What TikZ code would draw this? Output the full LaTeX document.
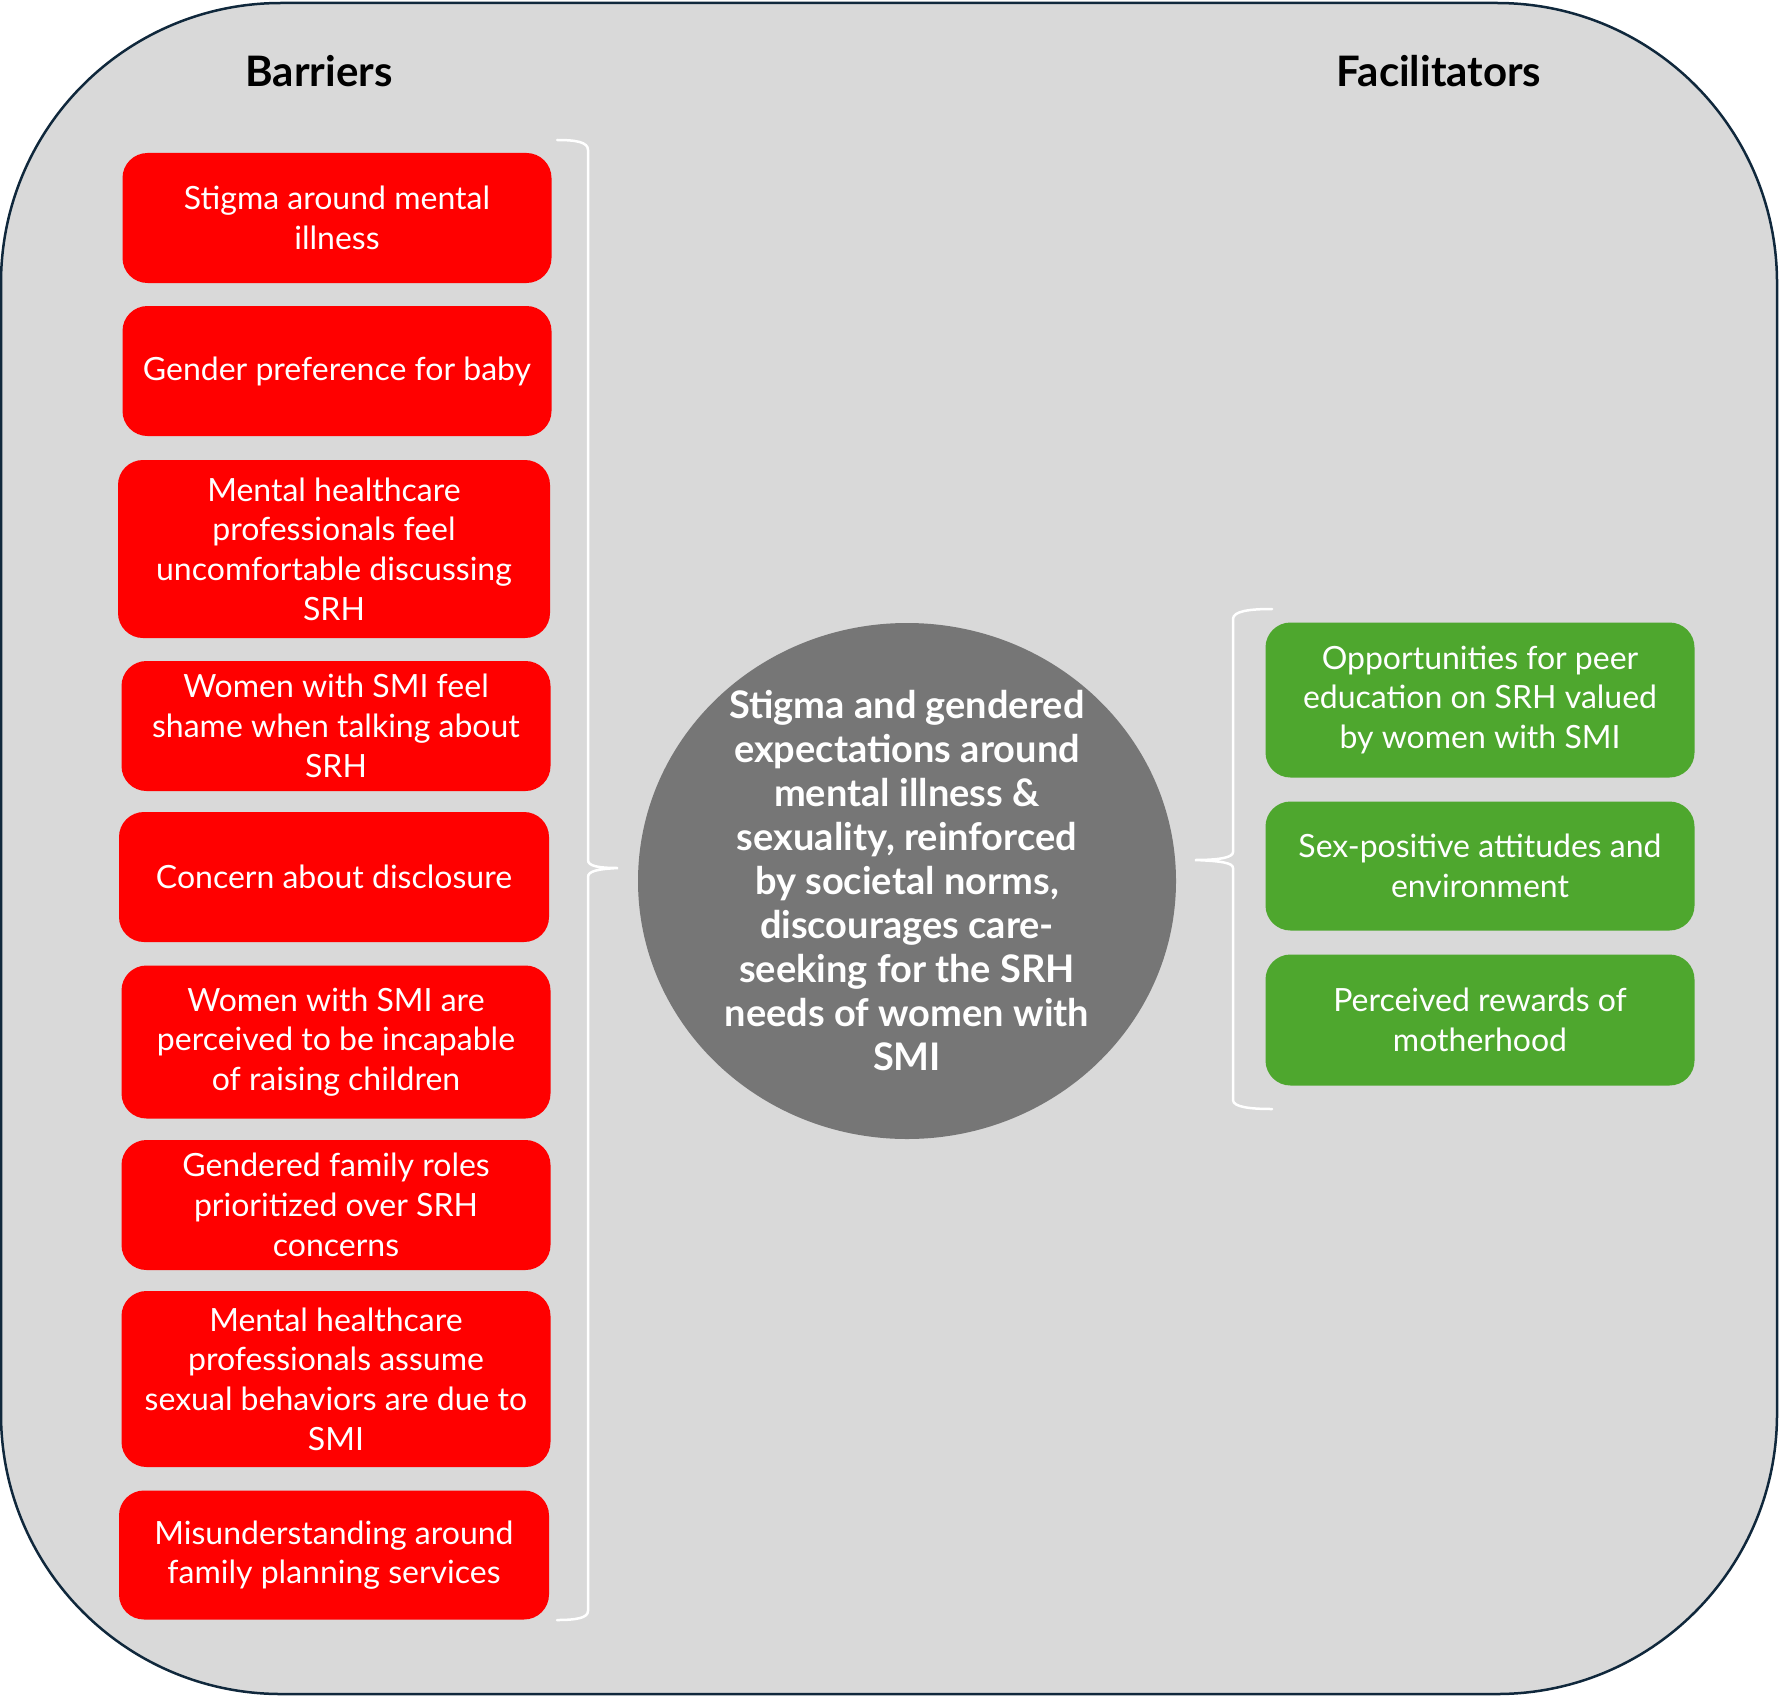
\documentclass[tikz,border=0pt]{standalone}
\usepackage{fontspec}
\setmainfont{Lato}
\usetikzlibrary{shapes.geometric}
\definecolor{bgc}{HTML}{D9D9D9}
\definecolor{framec}{HTML}{10283C}
\definecolor{barred}{HTML}{FF0000}
\definecolor{facgreen}{HTML}{4EA72E}
\definecolor{circgray}{HTML}{767676}
\begin{document}
\begin{tikzpicture}[x=1pt,y=-1pt,
  box/.style={rounded corners=25pt, text=white, align=center, inner sep=0pt,
              font=\fontsize{32}{39.7}\selectfont},
  rbox/.style={box, fill=barred, minimum width=429pt},
  gbox/.style={box, fill=facgreen, minimum width=429pt},
  bracec/.style={draw=white, line width=2.5pt, line cap=round},
  head/.style={font=\bfseries\fontsize{42}{48}\selectfont, text=black, inner sep=0pt},
]
\useasboundingbox (0,0) rectangle (1779,1696);
\draw[fill=bgc, draw=framec, line width=2.5pt, rounded corners=280pt] (1,3) rectangle (1777,1694);

\node[head] (hb) at (319,71) {Barriers};
\node[head] (hf) at (1439,71) {Facilitators};

% barriers
\node[rbox, minimum height=130pt] (b1) at (337,218) {Stigma around mental\\illness};
\node[rbox, minimum height=130pt] (b2) at (337,371) {Gender preference for baby};
\node[rbox, minimum height=178pt, minimum width=432pt] (b3) at (334,549) {Mental healthcare\\professionals feel\\uncomfortable discussing\\SRH};
\node[rbox, minimum height=130pt] (b4) at (336,726) {Women with SMI feel\\shame when talking about\\SRH};
\node[rbox, minimum height=130pt, minimum width=430pt] (b5) at (334,877) {Concern about disclosure};
\node[rbox, minimum height=153pt] (b6) at (336,1042) {Women with SMI are\\perceived to be incapable\\of raising children};
\node[rbox, minimum height=130pt] (b7) at (336,1205) {Gendered family roles\\prioritized over SRH\\concerns};
\node[rbox, minimum height=176pt] (b8) at (336,1379) {Mental healthcare\\professionals assume\\sexual behaviors are due to\\SMI};
\node[rbox, minimum height=129pt, minimum width=430pt] (b9) at (334,1555) {Misunderstanding around\\family planning services};

% facilitators
\node[gbox, minimum height=155pt] (f1) at (1480,700) {Opportunities for peer\\education on SRH valued\\by women with SMI};
\node[gbox, minimum height=129pt] (f2) at (1480,866) {Sex-positive attitudes and\\environment};
\node[gbox, minimum height=131pt] (f3) at (1480,1020) {Perceived rewards of\\motherhood};

% centre
\node[ellipse, fill=circgray, inner sep=0pt, minimum width=538pt, minimum height=516pt] (c) at (907,881) {};
\node[text=white, align=center, inner sep=0pt, font=\bfseries\fontsize{38}{44}\selectfont] (ct) at (c.center)
  {Stigma and gendered\\expectations around\\mental illness \&\\sexuality, reinforced\\by societal norms,\\discourages care-\\seeking for the SRH\\needs of women with\\SMI};

% braces
\coordinate (lbT) at (557,140);
\coordinate (lbTip) at (618,868);
\coordinate (lbB) at (557,1620);
\draw[bracec] (lbT) .. controls (576,140) and (588,142) .. (588,150) -- (588,860)
  .. controls (588,866) and (598,868) .. (lbTip)
  .. controls (598,869) and (588,871) .. (588,877) -- (588,1611)
  .. controls (588,1618) and (576,1620) .. (lbB);

\coordinate (rbT) at (1272,609);
\coordinate (rbTip) at (1195,860);
\coordinate (rbB) at (1272,1109);
\draw[bracec] (rbT) .. controls (1250,609) and (1233,611) .. (1233,619) -- (1233,852)
  .. controls (1233,857) and (1222,860) .. (rbTip)
  .. controls (1222,861) and (1233,863) .. (1233,868) -- (1233,1100)
  .. controls (1233,1107) and (1250,1109) .. (rbB);
\end{tikzpicture}
\end{document}
